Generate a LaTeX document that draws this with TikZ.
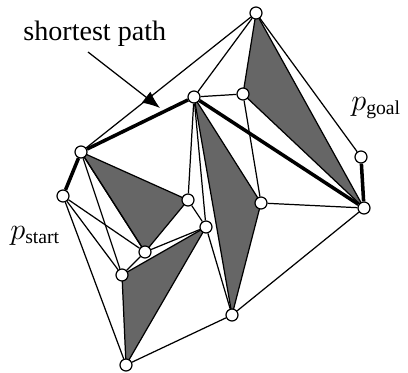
\documentclass[tikz,border=0pt]{standalone}
\usepackage{fontspec}
\setmainfont{Liberation Serif}
\usepackage{amsmath}
\usepackage{tikz}
\usetikzlibrary{arrows.meta, backgrounds}
\definecolor{obstgray}{RGB}{102,102,102}

\begin{document}
\begin{tikzpicture}[
    x=0.02cm, y=-0.02cm,
    vtx/.style={circle, draw, fill=white, line width=0.7pt, inner sep=0pt, minimum size=0.24cm},
    edge/.style={line width=0.7pt},
    spath/.style={line width=2pt},
    obst/.style={fill=obstgray, draw=black, line width=0.7pt, line join=round},
    arrow/.style={-{Latex[length=10pt, width=8pt]}, line width=0.7pt},
    lbl/.style={inner sep=0pt, font=\fontsize{16}{19}\selectfont}
]
    \useasboundingbox (0,0) rectangle (408,372);

    % vertices
    \node[vtx] (A) at (256,13) {};
    \node[vtx] (B) at (194,97) {};
    \node[vtx] (C) at (243,94) {};
    \node[vtx] (D) at (361,157) {};
    \node[vtx] (E) at (364,208) {};
    \node[vtx] (F) at (81,152) {};
    \node[vtx] (G) at (63,196) {};
    \node[vtx] (H) at (188,200) {};
    \node[vtx] (I) at (206,227) {};
    \node[vtx] (J) at (145,252) {};
    \node[vtx] (K) at (122,275) {};
    \node[vtx] (L) at (126,365) {};
    \node[vtx] (M) at (232,315) {};
    \node[vtx] (N) at (261,203) {};

    % obstacles
    \begin{scope}[on background layer]
        \draw[obst] (A.center) -- (C.center) -- (E.center) -- cycle;
        \draw[obst] (B.center) -- (N.center) -- (M.center) -- cycle;
        \draw[obst] (F.center) -- (H.center) -- (J.center) -- cycle;
        \draw[obst] (K.center) -- (I.center) -- (L.center) -- cycle;
    \end{scope}

    % edges
    \draw[edge] (A) -- (F);
    \draw[edge] (A) -- (B);
    \draw[edge] (A) -- (D);
    \draw[edge] (B) -- (C);
    \draw[edge] (C) -- (N);
    \draw[edge] (N) -- (E);
    \draw[edge] (E) -- (M);
    \draw[edge] (M) -- (L);
    \draw[edge] (I) -- (M);
    \draw[edge] (B) -- (I);
    \draw[edge] (B) -- (H);
    \draw[edge] (H) -- (I);
    \draw[edge] (J) -- (I);
    \draw[edge] (J) -- (K);
    \draw[edge] (F) -- (J);
    \draw[edge] (F) -- (K);
    \draw[edge] (G) -- (J);
    \draw[edge] (G) -- (K);
    \draw[edge] (G) -- (L);

    % shortest path
    \draw[spath] (G) -- (F) -- (B) -- (E) -- (D);

    % labels
    \node[lbl, anchor=base west] (title) at (23,40) {shortest path};
    \coordinate (arrtail) at (88,52);
    \coordinate (arrtip) at (160,108);
    \draw[arrow] (arrtail) -- (arrtip);
    \node[lbl, anchor=base west] (pstart) at (10,239) {$p_{\text{start}}$};
    \node[lbl, anchor=base west] (pgoal) at (351,110) {$p_{\text{goal}}$};
\end{tikzpicture}
\end{document}
